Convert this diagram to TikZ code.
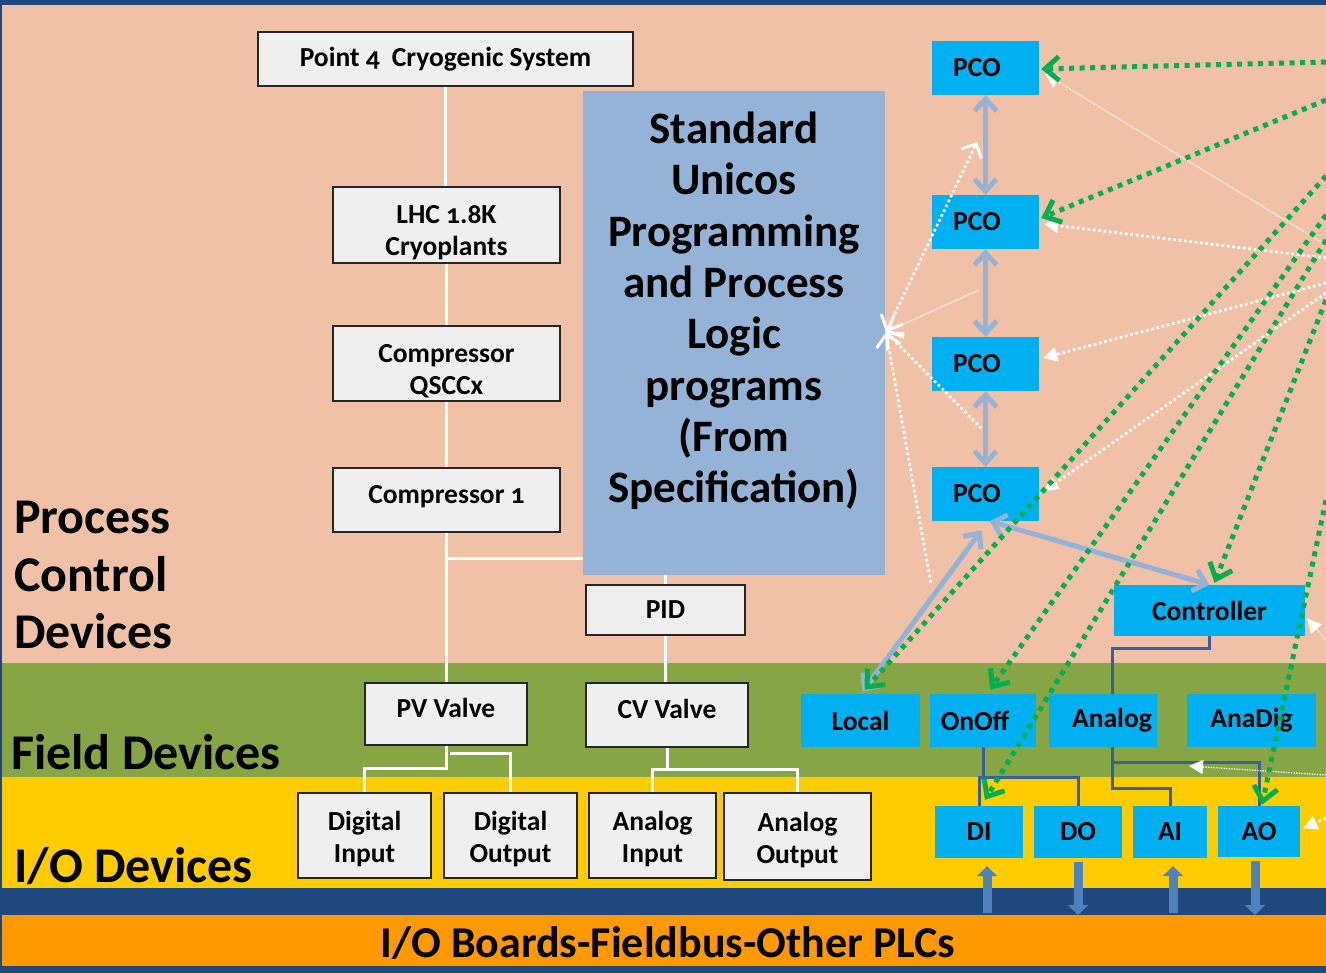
\documentclass[tikz,border=0pt]{standalone}
\usepackage{fontspec}
\setmainfont{Carlito}[Numbers=OldStyle]
\usetikzlibrary{arrows.meta}

\definecolor{bandblue}{HTML}{1F497D}
\definecolor{salmon}{HTML}{F0C1A7}
\definecolor{fieldgreen}{HTML}{86A545}
\definecolor{ioyellow}{HTML}{FFCC00}
\definecolor{busorange}{HTML}{FF9900}
\definecolor{unicosblue}{HTML}{95B3D7}
\definecolor{pcocyan}{HTML}{00B0F0}
\definecolor{boxgray}{HTML}{EFEFEF}
\definecolor{treeblue}{HTML}{3C5F95}
\definecolor{blockblue}{HTML}{4F81BD}
\definecolor{linkgreen}{HTML}{00B050}

\newcommand\dgboxfont{\fontsize{27.5}{32}\selectfont\bfseries}
\newcommand\dgbigfont{\fontsize{45}{51.3}\selectfont\bfseries}
\newcommand\dglayerfont{\fontsize{50}{57.5}\selectfont\bfseries}
\newcommand\dgbusfont{\fontsize{44}{50}\selectfont\bfseries}
% struts that push a box label down (\dglower) or up (\dgraise)
\newcommand\dglower[1]{\rule{0pt}{#1}}
\newcommand\dgraise[1]{\rule[-#1]{0pt}{0pt}}

\begin{document}
\begin{tikzpicture}[x=1pt,y=-1pt,
  graybox/.style={draw=black!85, line width=1.2pt, fill=boxgray, inner sep=0pt, align=center, font=\dgboxfont},
  cyanbox/.style={fill=pcocyan, inner sep=0pt, font=\dgboxfont},
  wline/.style={draw=white, line width=3pt},
  tline/.style={draw=treeblue, line width=3pt},
  pcoarrow/.style={draw=unicosblue, line width=5pt, line cap=round,
    {Straight Barb[length=12pt,width=22pt]}-{Straight Barb[length=12pt,width=22pt]}},
  greenlink/.style={draw=linkgreen, line width=5pt, dash pattern=on 5pt off 5.5pt,
    -{Straight Barb[length=14pt,width=24pt,line width=5pt]}},
  wdots/.style={draw=white, line width=2.7pt, dash pattern=on 2.7pt off 2.7pt,
    -{Triangle[length=14pt,width=14pt]}},
  wfine/.style={draw=white, line width=1.3pt, dash pattern=on 1.3pt off 1.3pt,
    -{Triangle[length=14pt,width=14pt]}},
  hubtip/.style={{Straight Barb[length=12pt,width=24pt,line width=3pt]}-},
  blockarrow/.style={draw=blockblue, line width=9pt,
    -{Triangle[length=10pt,width=20pt]}}
]
\useasboundingbox (0,0) rectangle (1326,973);

% layer bands
\fill[bandblue] (0,0) rectangle (1326,973);
\fill[salmon] (2,5) rectangle (1326,663);
\fill[fieldgreen] (2,663) rectangle (1326,777);
\fill[ioyellow] (2,777) rectangle (1326,888);
\fill[busorange] (2,915) rectangle (1326,966);

% layer captions
\node[anchor=west, align=left, font=\dglayerfont, inner sep=0pt] (pcd) at (14,575) {Process\\Control\\Devices};
\node[anchor=west, font=\dglayerfont, inner sep=0pt] (fdev) at (11,752) {Field Devices};
\node[anchor=west, font=\dglayerfont, inner sep=0pt] (iodev) at (14,866) {I/O Devices};
\node[font=\dgbusfont, inner sep=0pt] (bus) at (668,943) {I/O Boards-Fieldbus-Other PLCs};

% process hierarchy
\node[graybox, minimum width=375, minimum height=54] (p4) at (445.5,59) {\dgraise{4pt}Point 4\hspace{6pt} Cryogenic System};
\node[graybox, minimum width=227, minimum height=76] (lhc) at (446.5,225) {\dglower{34pt}LHC 1.8K\\Cryoplants};
\node[graybox, minimum width=227, minimum height=75] (qscc) at (446.5,363.5) {\dglower{34pt}Compressor\\QSCCx};
\node[graybox, minimum width=227, minimum height=64] (comp1) at (446.5,500) {\dgraise{11pt}Compressor 1};
\node[fill=unicosblue, inner sep=0pt, minimum width=302, minimum height=484, align=center, font=\dgbigfont] (unicos) at (734,333)
  {Standard\\Unicos\\Programming\\and Process\\Logic\\programs\\(From\\Specification)\\\mbox{}};
\node[graybox, minimum width=159, minimum height=50] (pid) at (665.5,610) {PID};
\node[graybox, minimum width=162, minimum height=62] (pv) at (446,714) {\dgraise{12pt}PV Valve};
\node[graybox, minimum width=162, minimum height=64] (cv) at (667,715) {\dgraise{13pt}CV Valve};
\node[graybox, minimum width=133, minimum height=85] (digin) at (364.5,835.5) {\dglower{26pt}Digital\\Input};
\node[graybox, minimum width=133, minimum height=85] (digout) at (510.5,835.5) {\dglower{26pt}Digital\\Output};
\node[graybox, minimum width=127, minimum height=85] (anin) at (652.5,835.5) {\dglower{26pt}Analog\\Input};
\node[graybox, minimum width=147, minimum height=87] (anout) at (797.5,836.5) {\dglower{26pt}Analog\\Output};

% white tree connectors
\draw[wline] (p4.south) -- (p4.south |- lhc.north);
\draw[wline] (lhc.south) -- (qscc.north);
\draw[wline] (qscc.south) -- (comp1.north);
\draw[wline] (comp1.south) -- (comp1.south |- pv.north);
\coordinate (cj) at (446.5,558);
\draw[wline] (cj) -- (cj -| unicos.west);
\draw[wline] (pid.north |- unicos.south) -- (pid.north);
\draw[wline] (pid.south) -- (pid.south |- cv.north);
\coordinate (pvj) at (446,768);
\draw[wline] (pv.south) -- (pvj) -| (digin.north);
\coordinate (pvk) at (450,753);
\draw[wline] (pvk) -| (digout.north);
\draw[wline] (cv.south) -- ++(0,23);
\draw[wline] (anin.north) -- ++(0,-23) -| (anout.north);

% UNICOS objects
\node[cyanbox, minimum width=107, minimum height=54] (pco1) at (985.5,68) {PCO\hspace*{17pt}};
\node[cyanbox, minimum width=107, minimum height=54] (pco2) at (985.5,222) {PCO\hspace*{17pt}};
\node[cyanbox, minimum width=107, minimum height=54] (pco3) at (985.5,364) {PCO\hspace*{17pt}};
\node[cyanbox, minimum width=107, minimum height=54] (pco4) at (985.5,494) {PCO\hspace*{17pt}};
\node[cyanbox, minimum width=191, minimum height=51] (ctrl) at (1209.5,610.5) {Controller};
\node[cyanbox, minimum width=119, minimum height=53] (local) at (860.5,720.5) {Local};
\node[cyanbox, minimum width=106, minimum height=53] (onoff) at (983,720.5) {OnOff\hspace*{16pt}};
\node[cyanbox, minimum width=108, minimum height=53] (analog) at (1103,720.5) {\hspace*{18pt}Analog};
\node[cyanbox, minimum width=129, minimum height=53] (anadig) at (1251.5,720.5) {AnaDig};
\node[cyanbox, minimum width=88, minimum height=52] (din) at (979,832) {DI};
\node[cyanbox, minimum width=88, minimum height=52] (dout) at (1078,832) {DO};
\node[cyanbox, minimum width=74, minimum height=52] (ain) at (1170,832) {AI};
\node[cyanbox, minimum width=82, minimum height=51] (aout) at (1259,831.5) {AO};

% object tree links
\coordinate (ctj) at (1112,648);
\draw[tline] (ctrl.south) |- (ctj) -- (ctj |- analog.north);
\coordinate (ofj) at (983,777);
\draw[tline] (onoff.south -| ofj) -- (ofj);
\draw[tline] (din.north) |- (ofj) -| (dout.north);
\coordinate (anj) at (1112,762);
\draw[tline] (analog.south -| anj) -- (anj) -| (aout.north);
\draw[tline] (anj) |- (1170,788) -- (ain.north);

% PCO hierarchy arrows
\draw[pcoarrow] (pco1.south) -- (pco2.north);
\draw[pcoarrow] (pco2.south) -- (pco3.north);
\draw[pcoarrow] (pco3.south) -- (pco4.north);
\draw[pcoarrow] ([xshift=4pt]pco4.south) -- (ctrl.north);
\draw[pcoarrow] ([xshift=-4pt,yshift=-9pt]pco4.south) -- ([xshift=2pt,yshift=2pt]local.north);

% links from the programs box edge
\coordinate (hub) at (886,332);
\coordinate (hubA) at (977,142);
\coordinate (hubB) at (979,290);
\coordinate (hubC) at (981,428);
\coordinate (hubD) at (931,584);
\draw[draw=white, line width=2.7pt, dash pattern=on 2.7pt off 2.7pt,
  {Straight Barb[length=12pt,width=24pt,line width=3pt]}-{Straight Barb[length=11pt,width=22pt,line width=2.8pt]}] (hub) -- (hubA);
\draw[wfine, hubtip] (hub) -- (hubB);
\draw[wdots, hubtip] (hub) -- (hubC);
\draw[wdots, hubtip] (hub) -- (hubD);

% links entering from the right
\coordinate (rE) at (1326,245);
\coordinate (rF) at (1326,258);
\coordinate (rG) at (1326,283);
\coordinate (rH) at (1326,293);
\coordinate (rI) at (1326,640);
\coordinate (rJ) at (1326,775);
\coordinate (rK) at (1326,818);
\coordinate (antree) at (1189,766);
\draw[wfine] (rE) -- ([yshift=-6pt,xshift=6pt]pco1.east);
\draw[wdots] (rF) -- ([yshift=-2pt,xshift=5pt]pco2.east);
\draw[wdots] (rG) -- ([yshift=6pt,xshift=4pt]pco3.east);
\draw[wdots] (rH) -- ([yshift=3pt,xshift=5pt]pco4.east);
\draw[wfine] (rI) -- ([yshift=-8pt,xshift=2pt]ctrl.east);
\draw[wfine] (rJ) -- (antree);
\draw[wdots] (rK) -- ([yshift=3pt,xshift=3pt]aout.east);

% green links
\coordinate (g1) at (1326,62);
\coordinate (g2) at (1326,100);
\coordinate (g3) at (1326,176);
\coordinate (g4) at (1326,215);
\coordinate (g5) at (1326,240);
\coordinate (g6) at (1326,300);
\coordinate (g7) at (1326,500);
\draw[greenlink] (g1) -- ([xshift=2pt,yshift=-1pt]pco1.east);
\draw[greenlink] (g2) -- ([xshift=2pt,yshift=4pt]pco2.east);
\draw[greenlink] (g3) -- ([xshift=4pt,yshift=4pt]local.north);
\draw[greenlink] (g4) -- ([xshift=7pt,yshift=4pt]onoff.north);
\draw[greenlink] (g5) -- ([xshift=6pt,yshift=6pt]din.north);
\draw[greenlink] (g6) -- ([xshift=5pt,yshift=2pt]ctrl.north);
\draw[greenlink] (g7) -- ([xshift=3pt,yshift=1pt]aout.north);

% I/O channel arrows to the fieldbus
\coordinate (bdi) at (987,913);
\coordinate (bdo) at (1078,915);
\coordinate (bai) at (1173,913);
\coordinate (bao) at (1255,915);
\draw[blockarrow, shorten >=8pt] (bdi) -- (bdi |- din.south);
\draw[blockarrow, shorten <=4pt] (bdo |- dout.south) -- (bdo);
\draw[blockarrow, shorten >=8pt] (bai) -- (bai |- ain.south);
\draw[blockarrow, shorten <=4pt] (bao |- aout.south) -- (bao);
\end{tikzpicture}
\end{document}
